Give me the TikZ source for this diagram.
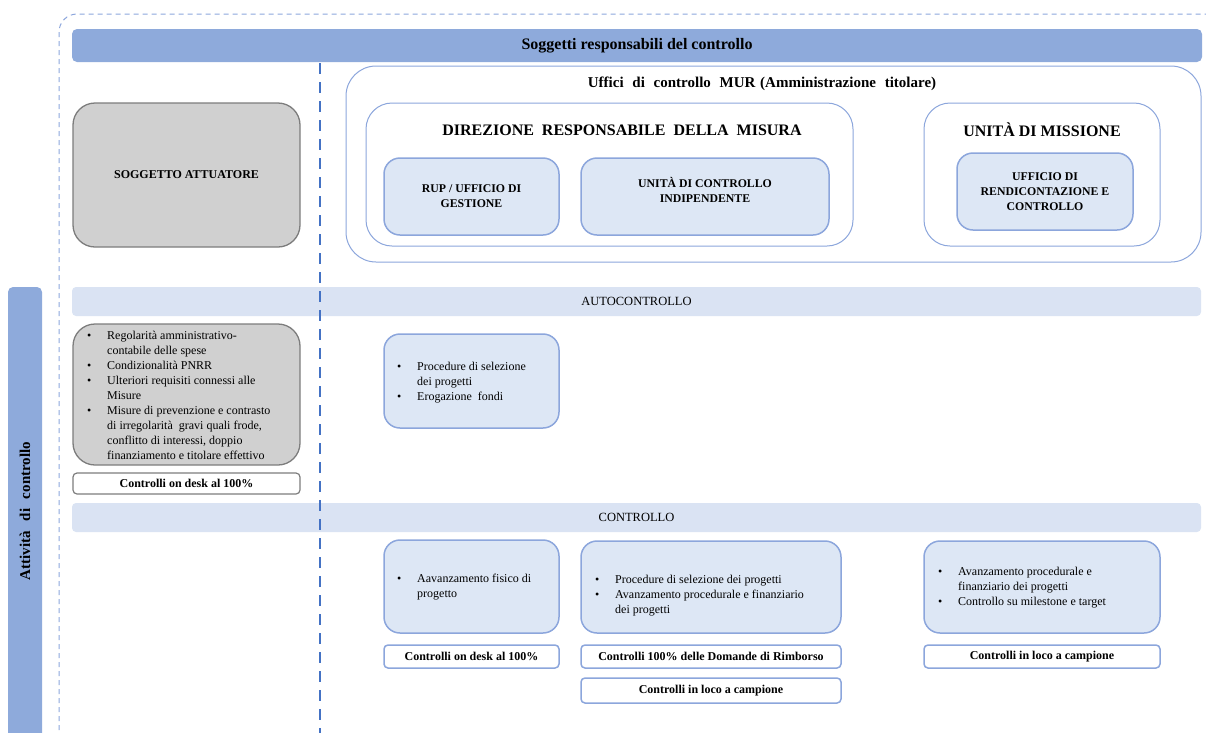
\documentclass[tikz,border=0pt]{standalone}
\usepackage{fontspec}
\setmainfont{Liberation Serif}
\definecolor{bandblue}{RGB}{142,170,219}
\definecolor{bandlight}{RGB}{218,227,243}
\definecolor{boxfill}{RGB}{221,231,245}
\definecolor{boxline}{RGB}{140,166,220}
\definecolor{grayfill}{RGB}{208,208,208}
\definecolor{grayline}{RGB}{125,125,125}
\definecolor{divider}{RGB}{68,114,196}
\newcommand{\bulletlist}[2]{{\fontsize{12}{15}\selectfont
  \begin{tabular}{@{}p{#1}@{}l@{}}#2\end{tabular}}}
\begin{document}
\begin{tikzpicture}[x=1pt,y=-1pt,
  darkband/.style={fill=bandblue,draw=none,rounded corners=5pt,inner sep=0pt},
  lightband/.style={fill=bandlight,draw=none,rounded corners=4pt,inner sep=0pt,
    font=\fontsize{12.5}{15}\selectfont},
  frame/.style={fill=white,draw=boxline,line width=1pt,rounded corners=30pt,inner sep=0pt},
  bluebox/.style={fill=boxfill,draw=boxline,line width=1.5pt,rounded corners=16pt,
    inner sep=0pt,align=center,font=\bfseries\fontsize{11.8}{15}\selectfont},
  graybox/.style={fill=grayfill,draw=grayline,line width=1.3pt,rounded corners=22pt,
    inner sep=0pt,align=center,font=\bfseries\fontsize{12}{15}\selectfont},
  tagbox/.style={fill=white,draw=boxline,line width=1.5pt,rounded corners=4pt,
    inner sep=0pt,font=\bfseries\fontsize{12}{15}\selectfont},
  graytag/.style={tagbox,draw=grayline,line width=1.2pt},
  title/.style={inner sep=0pt,font=\bfseries\fontsize{16}{18}\selectfont},
  bullets/.style={inner sep=0pt,anchor=west},
]
\useasboundingbox (0,0) rectangle (1206,732);
\clip (0,0) rectangle (1206,732);

% outer dashed frame
\draw[boxline,line width=1pt,dash pattern=on 5pt off 4pt,rounded corners=18pt]
  (59,14) rectangle (1224,750);

% header bar and side bar
\node[darkband,minimum width=1130pt,minimum height=33pt,
  font=\bfseries\fontsize{16}{18}\selectfont] (head) at (637,45.5)
  {Soggetti responsabili del controllo};
\node[darkband,minimum width=34pt,minimum height=480pt] (side) at (25,527) {};
\node[rotate=90,inner sep=0pt,font=\bfseries\fontsize{15}{16}\selectfont] (sidetext) at (25,511)
  {Attività\hspace{6pt} di\hspace{6pt} controllo};

% soggetto attuatore
\node[graybox,minimum width=227pt,minimum height=144pt] (sa) at (186.5,175)
  {SOGGETTO ATTUATORE};

% MUR offices
\node[frame,minimum width=855pt,minimum height=196pt] (mur) at (773.5,164) {};
\node[inner sep=0pt,font=\bfseries\fontsize{15}{16}\selectfont] (murtitle) at (762,84)
  {Uffici\hspace{5pt} di\hspace{5pt} controllo\hspace{5pt} MUR\hspace{1pt} (Amministrazione\hspace{5pt} titolare)};

\node[frame,rounded corners=26pt,minimum width=487pt,minimum height=143pt] (dir) at (609.5,174.5) {};
\node[title] (dirtitle) at (622,130)
  {DIREZIONE\hspace{4pt} RESPONSABILE\hspace{4pt} DELLA\hspace{4pt} MISURA};
\node[bluebox,minimum width=175pt,minimum height=77pt] (rup) at (471.5,196.5)
  {RUP / UFFICIO DI\\GESTIONE};
\node[bluebox,minimum width=248pt,minimum height=77pt] (uci) at (705,196.5)
  {UNITÀ DI CONTROLLO\\INDIPENDENTE\\[-2pt]};

\node[frame,rounded corners=26pt,minimum width=236pt,minimum height=143pt] (um) at (1042,174.5) {};
\node[title] (umtitle) at (1042,130) {UNITÀ DI MISSIONE};
\node[bluebox,minimum width=176pt,minimum height=77pt] (urc) at (1045,191.5)
  {UFFICIO DI\\RENDICONTAZIONE E\\CONTROLLO};

% self-check band
\node[lightband,minimum width=1129pt,minimum height=29pt] (auto) at (636.5,301.5) {AUTOCONTROLLO};

\node[graybox,minimum width=227pt,minimum height=141pt] (gb) at (186.5,394.5) {};
\node[bullets] (gbtext) at (87,396) {\bulletlist{20pt}{%
  \textbullet & Regolarità amministrativo-\\
   & contabile delle spese\\
  \textbullet & Condizionalità PNRR\\
  \textbullet & Ulteriori requisiti connessi alle\\
   & Misure\\
  \textbullet & Misure di prevenzione e contrasto\\
   & di irregolarità\hspace{3pt} gravi quali frode,\\
   & conflitto di interessi, doppio\\
   & finanziamento e titolare effettivo}};
\node[graytag,minimum width=227pt,minimum height=21pt] (gtag) at (186.5,483.5)
  {Controlli on desk al 100\%};

\node[bluebox,minimum width=175pt,minimum height=94pt] (p1) at (471.5,381) {};
\node[bullets] (p1text) at (397,382) {\bulletlist{20pt}{%
  \textbullet & Procedure di selezione\\
   & dei progetti\\
  \textbullet & Erogazione\hspace{3pt} fondi}};

% control band
\node[lightband,minimum width=1129pt,minimum height=29pt] (ctrl) at (636.5,517.5) {CONTROLLO};

\node[bluebox,minimum width=175pt,minimum height=93pt] (c1) at (471.5,586.5) {};
\node[bullets] (c1text) at (397,587) {\bulletlist{20pt}{%
  \textbullet & Aavanzamento fisico di\\
   & progetto}};
\node[bluebox,minimum width=260pt,minimum height=92pt] (c2) at (711,587) {};
\node[bullets] (c2text) at (595,595) {\bulletlist{20pt}{%
  \textbullet & Procedure di selezione dei progetti\\
  \textbullet & Avanzamento procedurale e finanziario\\
   & dei progetti}};
\node[bluebox,minimum width=236pt,minimum height=92pt] (c3) at (1042,587) {};
\node[bullets] (c3text) at (938,587.5) {\bulletlist{20pt}{%
  \textbullet & Avanzamento procedurale e\\
   & finanziario dei progetti\\
  \textbullet & Controllo su milestone e target}};

\node[tagbox,minimum width=175pt,minimum height=23pt] (t1) at (471.5,656.5)
  {Controlli on desk al 100\%};
\node[tagbox,minimum width=260pt,minimum height=23pt] (t2) at (711,656.5)
  {Controlli 100\% delle Domande di Rimborso};
\node[tagbox,minimum width=260pt,minimum height=25pt] (t3) at (711,690.5)
  {Controlli in loco a campione};
\node[tagbox,minimum width=236pt,minimum height=23pt] (t4) at (1042,656.5)
  {Controlli in loco a campione};

% dividing line between the two columns
\coordinate (dtop) at (320,63);
\coordinate (dbot) at (320,740);
\draw[divider,line width=2.8pt,dash pattern=on 11pt off 8pt] (dtop) -- (dbot);
\end{tikzpicture}
\end{document}
